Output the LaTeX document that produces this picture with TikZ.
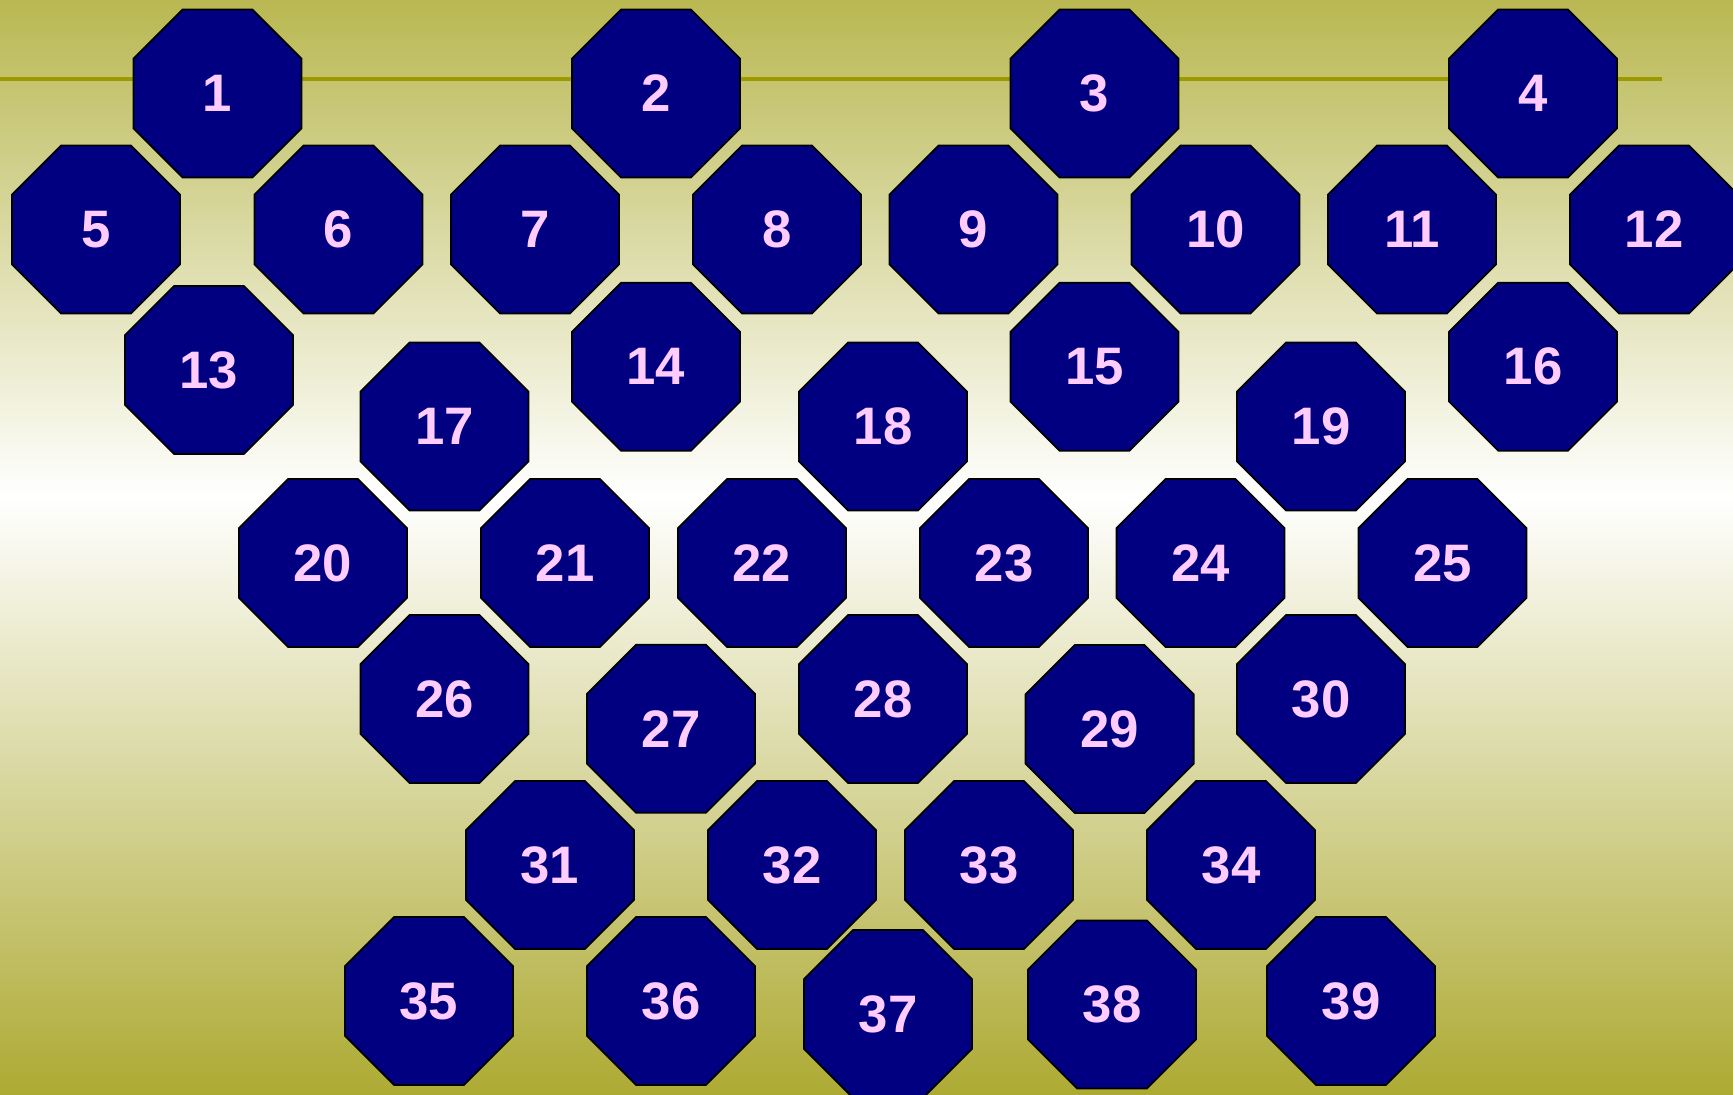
\documentclass[tikz,border=0pt]{standalone}
\usepackage{fontspec}
\setmainfont{Liberation Sans}
\usepackage{xcolor}
\usepackage{tikz}
\usetikzlibrary{shapes.geometric}

\definecolor{olivetop}{HTML}{B9B852}
\definecolor{olivebot}{HTML}{ADAA33}
\definecolor{oliveline}{HTML}{9C9A00}
\definecolor{octnavy}{HTML}{000080}
\definecolor{octpink}{HTML}{FFCCFF}

\begin{document}
\begin{tikzpicture}[
  x=0.01cm, y=-0.01cm,
  oct/.style={regular polygon, regular polygon sides=8, minimum size=1.818cm, inner sep=0pt,
    draw=black, line width=0.5pt, fill=octnavy, text=octpink,
    font=\fontsize{15}{18}\selectfont\bfseries}
]
% background
\useasboundingbox (0,0) rectangle (1733,1095);
\shade[top color=olivetop, bottom color=white] (0,0) rectangle (1733,497);
\shade[top color=white, bottom color=olivebot] (0,497) rectangle (1733,1095);
\draw[oliveline, line width=0.95pt] (0,79) -- (1662,79);

% top groups
\node[oct] (n1) at (217.5,93.5) {1};
\node[oct] (n2) at (656,93.5) {2};
\node[oct] (n3) at (1094.5,93.5) {3};
\node[oct] (n4) at (1533,93.5) {4};
\node[oct] (n5) at (96,229.5) {5};
\node[oct] (n6) at (338.5,229.5) {6};
\node[oct] (n7) at (535,229.5) {7};
\node[oct] (n8) at (777,229.5) {8};
\node[oct] (n9) at (973.5,229.5) {9};
\node[oct] (n10) at (1215.5,229.5) {10};
\node[oct] (n11) at (1412,229.5) {11};
\node[oct] (n12) at (1654,229.5) {12};
\node[oct] (n13) at (209,370) {13};
\node[oct] (n14) at (656,366.7) {14};
\node[oct] (n15) at (1094.5,366.7) {15};
\node[oct] (n16) at (1533,366.7) {16};

% middle groups
\node[oct] (n17) at (444.5,426.5) {17};
\node[oct] (n18) at (883,426.5) {18};
\node[oct] (n19) at (1321,426.5) {19};
\node[oct] (n20) at (323,563) {20};
\node[oct] (n21) at (565,563) {21};
\node[oct] (n22) at (762,563) {22};
\node[oct] (n23) at (1004,563) {23};
\node[oct] (n24) at (1200.5,563) {24};
\node[oct] (n25) at (1442.5,563) {25};
\node[oct] (n26) at (444.5,699) {26};
\node[oct] (n27) at (671,728.7) {27};
\node[oct] (n28) at (883,699) {28};
\node[oct] (n29) at (1109.6,729) {29};
\node[oct] (n30) at (1321,699) {30};

% bottom rows
\node[oct] (n31) at (550,865) {31};
\node[oct] (n32) at (792,865) {32};
\node[oct] (n33) at (989,865) {33};
\node[oct] (n34) at (1231,865) {34};
\node[oct] (n35) at (429,1001) {35};
\node[oct] (n36) at (671,1001) {36};
\node[oct] (n37) at (888,1014) {37};
\node[oct] (n38) at (1112,1004.5) {38};
\node[oct] (n39) at (1351,1001) {39};
\end{tikzpicture}
\end{document}
